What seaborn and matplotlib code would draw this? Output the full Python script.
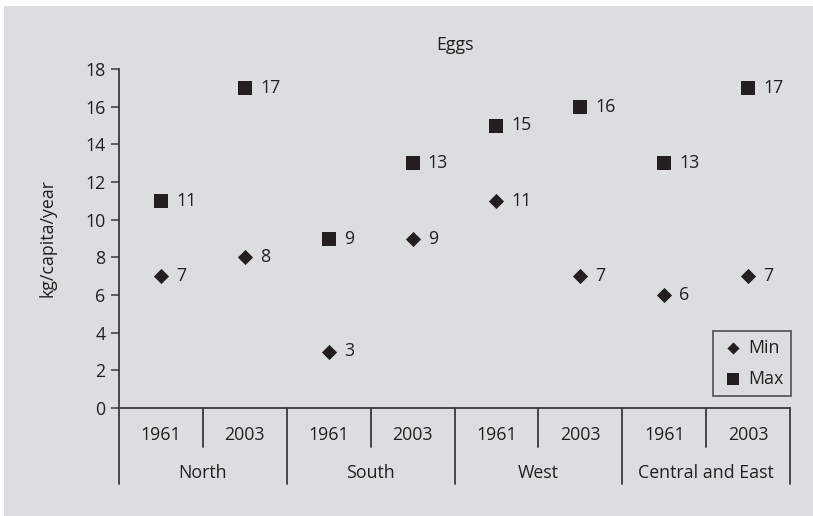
import matplotlib
matplotlib.use("Agg")
import matplotlib.pyplot as plt
from matplotlib.patches import Rectangle
from matplotlib.transforms import offset_copy
import seaborn as sns
import pandas as pd

# Egg supply by region and year (kg/capita/year)
regions = ["North", "South", "West", "Central and East"]
years = ["1961", "2003"]
min_values = [7, 8, 3, 9, 11, 7, 6, 7]
max_values = [11, 17, 9, 13, 15, 16, 13, 17]
y_ticks = [0, 2, 4, 6, 8, 10, 12, 14, 16, 18]

BG = "#dcdddf"
INK = "#231f20"
LINE = "#3a3a3c"
FS = 12.8

sns.set_theme(style="white")
plt.rcParams["font.family"] = ["Open Sans", "DejaVu Sans"]
plt.rcParams["text.color"] = INK

positions = list(range(len(regions) * len(years)))
df = pd.DataFrame({
    "pos": positions * 2,
    "value": min_values + max_values,
    "stat": ["Min"] * len(positions) + ["Max"] * len(positions),
})

fig = plt.figure(figsize=(8.13, 5.16), dpi=100)
fig.patch.set_facecolor("white")
fig.patches.append(Rectangle((4 / 813, 0), 1, 1 - 6 / 516, transform=fig.transFigure,
                             facecolor=BG, edgecolor="none", zorder=-10))

ax = fig.add_axes([119 / 813, 1 - 408 / 516, (790 - 119) / 813, (408 - 69) / 516])
ax.set_facecolor("none")

sns.scatterplot(data=df[df.stat == "Min"], x="pos", y="value", marker="D", s=60,
                color=INK, edgecolor=INK, linewidth=0, label="Min", ax=ax, zorder=3)
sns.scatterplot(data=df[df.stat == "Max"], x="pos", y="value", marker="s", s=100,
                color=INK, edgecolor=INK, linewidth=0, label="Max", ax=ax, zorder=3)

# value labels to the right of each marker
for _, row in df.iterrows():
    tr = offset_copy(ax.transData, fig=fig, x=11, y=0, units="points")
    ax.text(row.pos, row.value, f"{row.value}", transform=tr, ha="left", va="center",
            fontsize=FS, color=INK)

ax.set_xlim(-0.5, len(positions) - 0.5)
ax.set_ylim(0, 18)
ax.set_yticks(y_ticks)
ax.set_yticklabels([str(t) for t in y_ticks], fontsize=FS, color=INK)
ax.set_xticks([])
ax.set_xlabel("")
ax.set_ylabel("")
ax.tick_params(axis="y", direction="out", length=5.8, width=1.1, color=LINE, pad=4, left=True)

for side in ["top", "right"]:
    ax.spines[side].set_visible(False)
for side in ["left", "bottom"]:
    ax.spines[side].set_color(LINE)
    ax.spines[side].set_linewidth(1.3)

# two-level category axis drawn below the plot
xt = ax.get_xaxis_transform()
h = 408 - 69
for i in range(len(positions) + 1):
    x = i - 0.5
    depth = 76 if i % 2 == 0 else 39
    ax.plot([x, x], [0, -depth / h], transform=xt, color=LINE, lw=1.3, clip_on=False)
for i, p in enumerate(positions):
    ax.text(p, -27 / h, years[i % 2], transform=xt, ha="center", va="center",
            fontsize=FS, color=INK)
for g, name in enumerate(regions):
    ax.text(2 * g + 0.5, -65 / h, name, transform=xt, ha="center", va="center",
            fontsize=FS, color=INK)

leg = ax.legend(loc="lower right", bbox_to_anchor=(1.0015, 12 / h), fontsize=FS,
                frameon=True, fancybox=False, handletextpad=0.2, borderpad=0.45,
                labelspacing=0.75, handlelength=1.3, borderaxespad=0, markerscale=0.8)
leg.get_frame().set_edgecolor(LINE)
leg.get_frame().set_linewidth(1.3)
leg.get_frame().set_facecolor("none")

fig.text(455 / 813, 1 - 45 / 516, "Eggs", ha="center", va="center", fontsize=FS, color=INK)
fig.text(47 / 813, 1 - 238 / 516, "kg/capita/year", ha="center", va="center",
         rotation=90, fontsize=FS, color=INK)

fig.savefig("out.png", dpi=100, facecolor=fig.get_facecolor())
